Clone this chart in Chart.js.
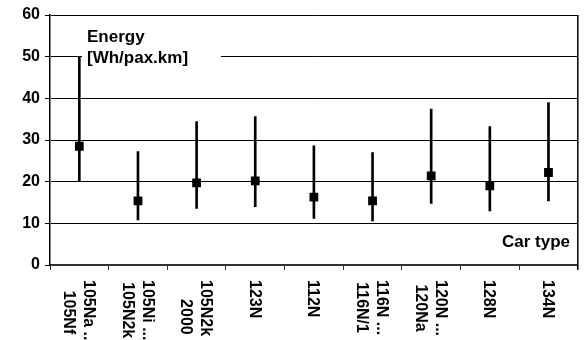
<!DOCTYPE html>
<html>
<head>
<meta charset="utf-8">
<script src="https://cdn.jsdelivr.net/npm/chart.js@4/dist/chart.umd.min.js"></script>
<style>
  body { margin: 0; background: #fff; }
  #energy-chart { display: block; }
</style>
</head>
<body>
<canvas id="energy-chart" width="584" height="340"></canvas>
<script>
// Car types (first line is drawn on the right, text reads top to bottom)
const carTypes = [
  ["105Na ...", "105Nf"],
  ["105Ni ...", "105N2k"],
  ["105N2k ...", "2000"],
  "123N",
  "112N",
  ["116N ...", "116N/1"],
  ["120N ...", "120Na"],
  "128N",
  "134N",
];

// Energy [Wh/pax.km]
const meanValues = [28.5, 15.4, 19.7, 20.2, 16.3, 15.4, 21.4, 19.0, 22.2];
const minValues = [20.0, 10.8, 13.6, 14.0, 11.2, 10.6, 14.8, 13.0, 15.4];
const maxValues = [50.0, 27.2, 34.4, 35.6, 28.6, 27.0, 37.4, 33.2, 39.0];

const yTicks = [0, 10, 20, 30, 40, 50, 60];

const FONT = '"Liberation Sans", Arial, sans-serif';

// Range bars built from min / max
const rangeData = minValues.map((lo, i) => [lo, maxValues[i]]);

// Plugin: white box and axis captions, rotated x labels, right frame
const decorations = {
  id: "decorations",
  beforeDatasetsDraw(chart) {
    const ctx = chart.ctx;
    ctx.save();
    ctx.fillStyle = "#fff";
    ctx.fillRect(82, 24, 139, 44);
    ctx.restore();
  },
  afterDraw(chart) {
    const ctx = chart.ctx;
    const area = chart.chartArea;
    const xScale = chart.scales.x;

    ctx.save();
    // right frame line
    ctx.strokeStyle = "#000";
    ctx.lineWidth = 1.5;
    ctx.beginPath();
    ctx.moveTo(area.right, area.top);
    ctx.lineTo(area.right, area.bottom + 5);
    ctx.stroke();

    // captions
    ctx.fillStyle = "#000";
    ctx.font = "bold 17px " + FONT;
    ctx.textBaseline = "middle";
    ctx.textAlign = "left";
    ctx.fillText("Energy", 87, 37);
    ctx.fillText("[Wh/pax.km]", 87, 58);
    ctx.textAlign = "right";
    ctx.fillText("Car type", 570, 242);

    // x labels rotated clockwise
    ctx.font = "bold 16px " + FONT;
    carTypes.forEach((label, i) => {
      const lines = Array.isArray(label) ? label : [label];
      const widths = lines.map((t) => ctx.measureText(t).width);
      const maxW = Math.max(...widths);
      const x = xScale.getPixelForValue(i) - 1;
      ctx.save();
      ctx.translate(x, area.bottom + 15);
      ctx.rotate(Math.PI / 2);
      ctx.textAlign = "center";
      ctx.textBaseline = "middle";
      lines.forEach((t, j) => {
        const ly = (j - (lines.length - 1) / 2) * 20;
        ctx.fillText(t, maxW / 2, ly);
      });
      ctx.restore();
    });
    ctx.restore();
  },
};

const config = {
  data: {
    labels: carTypes,
    datasets: [
      {
        type: "line",
        label: "mean",
        data: meanValues,
        showLine: false,
        pointStyle: "rect",
        pointRadius: 6.2,
        pointBackgroundColor: "#000",
        pointBorderWidth: 0,
        order: 0,
      },
      {
        type: "bar",
        label: "range",
        data: rangeData,
        backgroundColor: "#000",
        barThickness: 2,
        borderWidth: 0,
        order: 1,
      },
    ],
  },
  options: {
    responsive: false,
    animation: false,
    layout: { padding: { top: 15, right: 5, left: 0, bottom: 0 } },
    plugins: {
      legend: { display: false },
      tooltip: { enabled: false },
    },
    scales: {
      x: {
        type: "category",
        offset: true,
        grid: {
          offset: true,
          drawOnChartArea: false,
          drawTicks: true,
          tickLength: 5,
          color: "#333",
          lineWidth: 1,
        },
        border: { display: true, color: "#333", width: 2 },
        ticks: { display: false },
        afterFit(scale) {
          scale.height = 75;
        },
      },
      y: {
        min: yTicks[0],
        max: yTicks[yTicks.length - 1],
        afterBuildTicks(scale) {
          scale.ticks = yTicks.map((v) => ({ value: v }));
        },
        grid: { color: "#000", lineWidth: 1, tickLength: 5 },
        border: { display: true, color: "#000", width: 1.5 },
        ticks: {
          color: "#000",
          padding: 5,
          font: { family: FONT, size: 16, weight: "bold" },
        },
        afterFit(scale) {
          scale.width = 50;
        },
      },
    },
  },
  plugins: [decorations],
};

const ctx = document.getElementById("energy-chart");
const energyChart = new Chart(ctx, config);
</script>
</body>
</html>
